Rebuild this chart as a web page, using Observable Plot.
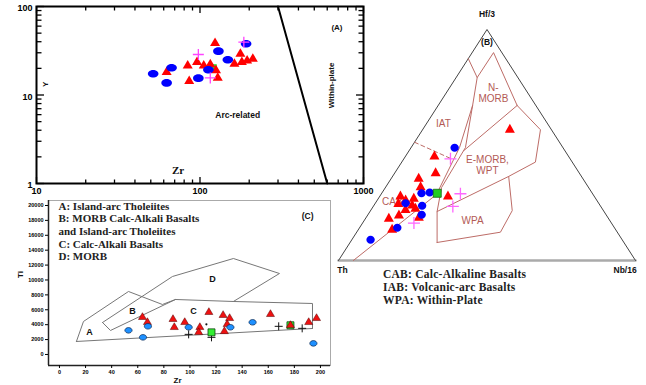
<!DOCTYPE html>
<html><head><meta charset="utf-8">
<script src="https://cdn.jsdelivr.net/npm/d3@7"></script>
<script src="https://cdn.jsdelivr.net/npm/@observablehq/plot@0.6"></script>
<style>
body{margin:0;background:#fff;}
#wrap{position:relative;width:646px;height:385px;overflow:hidden;background:#fff;}
#wrap svg{position:absolute;overflow:visible;background:transparent;}
.notes{position:absolute;left:383px;top:268px;font-family:"Liberation Serif",serif;font-weight:bold;font-size:11.5px;letter-spacing:0.25px;line-height:13px;color:#222;white-space:nowrap;}
</style></head><body><div id="wrap"></div>
<script>
// ================= Panel A : Y vs Zr (log-log) =================
const aXDomain = [10, 1000];
const aYDomain = [1, 100];
const aXTickLabels = [10, 100, 1000];
const aYTickLabels = [1, 10, 100];
const aBoundaryZr = [300, 600];
const aBoundaryY = [100, 1];
const aCircleZr = [51.7, 62.5, 67, 97.7, 112.5, 129.6, 148, 191.4];
const aCircleY = [17.4, 13.7, 20.3, 15.5, 19.3, 31.3, 25, 37.9];
const aTriangleZr = [62.5, 85.9, 84.1, 95.9, 105.4, 115.6, 123.6, 125.3, 128.4, 162.4, 176.6, 180.3, 194.2, 210.4];
const aTriangleY = [18.1, 14.3, 21.5, 23.5, 21.5, 22.1, 38.5, 18.9, 15.6, 22.5, 29.2, 23.5, 24.5, 25.6];
const aCrossZr = [97.7, 185.4, 115.6];
const aCrossY = [28.7, 39.5, 15.6];
const aSquareZr = [121.3];
const aSquareY = [20.6];
const aFieldText = ["Arc-related", "Within-plate"];
const aFieldZr = [170, 637];
const aFieldY = [5.9, 12.8];

// ================= Panel B : Hf/3 - Th - Nb/16 ternary (percent) =================
const bCornerHf = [0, 100, 0];
const bCornerNb = [0, 0, 100];
const bLineAHf = [0, 28.6, 48.9, 67.1, 79.2];
const bLineANb = [5, 18.7, 16.3, 11.6, 7.1];
const bLineBHf = [67.1, 48.9, 31.6, 21.2, 7.8];
const bLineBNb = [11.6, 18.3, 18.9, 22.6, 29.3];
const bNmorbHf = [87.4, 79.2, 90.0, 67.1];
const bNmorbNb = [0, 7.1, 7.2, 26.6];
const bNESplitHf = [67.1, 47.6];
const bNESplitNb = [26.6, 18.4];
const bEmorbHf = [67.1, 56.6, 42.6, 36.4, 21.2];
const bEmorbNb = [26.6, 39.7, 45.0, 39.1, 22.6];
const bWpaHf = [36.4, 21.6, 12.25, 7.8];
const bWpaNb = [39.1, 47.7, 48.4, 29.3];
const bDashHf = [51.2, 44.2];
const bDashNb = [0, 15.6];
const bFieldText = ["IAT", "N-\nMORB", "E-MORB,\nWPT", "WPA", "CAB"];
const bFieldHf = [59.3, 72.7, 41.3, 17.3, 25.5];
const bFieldNb = [5.7, 15.8, 29.5, 36.5, 5.4];
const bCircleHf = [48.8, 9.0, 29.1, 29.4, 24.8, 23.7, 19.8, 14.2];
const bCircleNb = [14.7, 6.3, 13.4, 16.0, 10.2, 16.3, 18.1, 12.7];
const bTriangleHf = [45.0, 37.8, 35.4, 31.7, 27.7, 27.7, 26.0, 26.7, 24.5, 23.8, 22.4, 21.9, 19.5, 18.1, 18.5, 13.3, 56.6];
const bTriangleNb = [9.8, 13.8, 9.3, 11.8, 23.0, 7.0, 9.6, 12.0, 7.9, 12.9, 14.7, 11.6, 10.6, 7.9, 17.8, 11.4, 29.4];
const bCrossHf = [44.0, 28.9, 23.4, 16.2];
const bCrossNb = [15.7, 26.6, 26.8, 17.3];
const bSquareHf = [29.1];
const bSquareNb = [18.7];
const bNotes = ["CAB: Calc-Alkaline Basalts", "IAB: Volcanic-arc Basalts", "WPA: Within-Plate"];

// ================= Panel C : Ti vs Zr =================
const cXDomain = [-8.4, 207.7];
const cYDomain = [-1480, 20670];
const cXTickLabels = [0, 20, 40, 60, 80, 100, 120, 140, 160, 180, 200];
const cYTickLabels = [0, 2000, 4000, 6000, 8000, 10000, 12000, 14000, 16000, 18000, 20000];
const cOuterZr = [13, 18.4, 52.9, 78.9, 88.9];
const cOuterTi = [1745, 4429, 8455, 6710, 7381];
const cBaseZr = [13, 193.9];
const cBaseTi = [1745, 3489];
const cCTopZr = [193.9, 193.9, 133.3, 88.9];
const cCTopTi = [3489, 6844, 7113, 7381];
const cDZr = [33, 86.6, 133.3, 168.6, 133.3];
const cDTi = [4294, 10468, 12883, 10870, 7113];
const cBLowZr = [33, 39.1, 88.9];
const cBLowTi = [4294, 3221, 7381];
const cFieldText = ["A", "B", "C", "D"];
const cFieldZr = [23, 55.9, 102.7, 117.2];
const cFieldTi = [2993, 5771, 5771, 10065];
const cLegend = ["A: Island-arc Tholeiites", "B: MORB Calc-Alkali Basalts", "and Island-arc Tholeiites", "C: Calc-Alkali Basalts", "D: MORB"];
const cCircleZr = [52.9, 64, 67.8, 99, 131, 148, 194.6];
const cCircleTi = [3240, 2300, 3780, 3650, 3650, 4320, 1490];
const cTriangleZr = [63.6, 67.4, 87, 88, 96, 107.6, 106.7, 114.5, 125.4, 126.4, 128.5, 130.4, 161.7, 177, 191, 197];
const cTriangleTi = [5000, 4320, 4730, 3650, 4320, 3650, 2970, 5670, 5270, 3100, 4050, 4860, 5400, 3920, 4320, 4860];
const cSquareZr = [116.5, 177];
const cSquareTi = [2970, 3920];
const cCrossZr = [99, 116.5, 168, 186];
const cCrossTi = [2700, 2300, 3780, 3510];
const cDotZr = [112.6];
const cDotTi = [4050];

// ---------- helpers ----------
const rows = (xs, ys) => xs.map((x, i) => ({x, y: ys[i]}));
const tern = (hf, nb) => hf.map((h, i) => ({x: nb[i] / 100 + h / 200, y: h / 100}));
const ell = (a, b) => ({draw(c) {const k = 0.5523; c.moveTo(a, 0); c.bezierCurveTo(a, b * k, a * k, b, 0, b); c.bezierCurveTo(-a * k, b, -a, b * k, -a, 0); c.bezierCurveTo(-a, -b * k, -a * k, -b, 0, -b); c.bezierCurveTo(a * k, -b, a, -b * k, a, 0); c.closePath();}});
const tri = (w, h) => ({draw(c) {c.moveTo(0, -h * 2 / 3); c.lineTo(w / 2, h / 3); c.lineTo(-w / 2, h / 3); c.closePath();}});
const sq = (s) => ({draw(c) {c.moveTo(-s / 2, -s / 2); c.lineTo(s / 2, -s / 2); c.lineTo(s / 2, s / 2); c.lineTo(-s / 2, s / 2); c.closePath();}});
const plus = (s) => ({draw(c) {c.moveTo(-s, 0); c.lineTo(s, 0); c.moveTo(0, -s); c.lineTo(0, s);}});
const SANS = "Liberation Sans, Arial, sans-serif";
const SERIF = "Liberation Serif, Times New Roman, serif";
const wrap = document.getElementById("wrap");
function place(svg, left, top) {svg.style.left = left + "px"; svg.style.top = top + "px"; wrap.appendChild(svg);}

// ---------- Panel A ----------
{
  const W = 370, H = 200, ml = 36, mr = 7, mt = 6, mb = 17;
  const fw = W - ml - mr, fh = H - mt - mb;
  const xMinor = [1, 2].flatMap(e => d3.range(2, 10).map(m => m * 10 ** e));
  const yMinor = [0, 1].flatMap(e => d3.range(2, 10).map(m => m * 10 ** e));
  const blank = () => "";
  const tkStyle = {label: null, stroke: "#000", strokeWidth: 1.3, tickFormat: blank};
  const inner = (ticksX, ticksY, len) => [
    Plot.axisY({anchor: "right", ticks: ticksY, tickSize: len, dx: -fw, ...tkStyle}),
    Plot.axisY({anchor: "left", ticks: ticksY, tickSize: len, dx: fw, ...tkStyle}),
    Plot.axisX({anchor: "bottom", ticks: ticksX, tickSize: len, dy: -fh, ...tkStyle}),
    Plot.axisX({anchor: "top", ticks: ticksX, tickSize: len, dy: fh, ...tkStyle})
  ];
  const svg = Plot.plot({
    width: W, height: H, marginLeft: ml, marginRight: mr, marginTop: mt, marginBottom: mb,
    style: {fontFamily: SANS, background: "transparent"},
    x: {type: "log", domain: aXDomain},
    y: {type: "log", domain: aYDomain},
    marks: [
      ...inner(xMinor, yMinor, 4.5),
      ...inner(aXTickLabels, aYTickLabels, 7),
      Plot.axisX({ticks: aXTickLabels, tickSize: 0, tickPadding: 4, tickFormat: d => String(d), fontSize: 9, fontWeight: "bold", label: null}),
      Plot.axisY({ticks: aYTickLabels, tickSize: 0, tickPadding: 4, tickFormat: d => String(d), fontSize: 9, fontWeight: "bold", dy: 2, label: null}),
      Plot.frame({stroke: "#000", strokeWidth: 2}),
      Plot.line(rows(aBoundaryZr, aBoundaryY), {x: "x", y: "y", stroke: "#000", strokeWidth: 2}),
      Plot.text([aFieldText[0]], {x: () => aFieldZr[0], y: () => aFieldY[0], fontSize: 8.5, fontWeight: "bold", fill: "#111"}),
      Plot.text([aFieldText[1]], {x: () => aFieldZr[1], y: () => aFieldY[1], rotate: -90, fontSize: 8, fontWeight: "bold", fill: "#111"}),
      Plot.text(["Zr"], {frameAnchor: "bottom", dx: -22, dy: -10, fontFamily: SERIF, fontSize: 11, fontWeight: "bold", fill: "#111"}),
      Plot.text(["Y"], {frameAnchor: "left", dx: 9, dy: -8, rotate: -90, fontSize: 8, fontWeight: "bold", fill: "#111"}),
      Plot.text(["(A)"], {frameAnchor: "top-right", dx: -21, dy: 18, fontSize: 8, fontWeight: "bold", fill: "#111"}),
      Plot.dot(rows(aSquareZr, aSquareY), {x: "x", y: "y", symbol: sq(6), r: 3, fill: "#22dd22", stroke: "none"}),
      Plot.dot(rows(aTriangleZr, aTriangleY), {x: "x", y: "y", symbol: tri(10, 8.5), r: 4, fill: "#ff0000", stroke: "none"}),
      Plot.dot(rows(aCircleZr, aCircleY), {x: "x", y: "y", symbol: ell(5.3, 3.8), r: 4, fill: "#0000ff", stroke: "none"}),
      Plot.dot(rows(aCrossZr, aCrossY), {x: "x", y: "y", symbol: plus(5.5), r: 4, fill: "none", stroke: "#ff44ff", strokeWidth: 1.3})
    ]
  });
  place(svg, 0, 0);
}

// ---------- Panel C ----------
{
  const W = 336, H = 190, ml = 48, mr = 6, mt = 5, mb = 20;
  const ln = {x: "x", y: "y", stroke: "#777", strokeWidth: 1};
  const svg = Plot.plot({
    width: W, height: H, marginLeft: ml, marginRight: mr, marginTop: mt, marginBottom: mb,
    style: {fontFamily: SANS, background: "transparent"},
    x: {domain: cXDomain},
    y: {domain: cYDomain},
    marks: [
      Plot.frame({stroke: "#aaa", strokeWidth: 1}),
      Plot.ruleX([cXDomain[0]], {stroke: "#222", strokeWidth: 1.5}),
      Plot.ruleY([cYDomain[0]], {stroke: "#222", strokeWidth: 1.5}),
      Plot.axisY({ticks: cYTickLabels, tickSize: 3, tickPadding: 2, tickFormat: d => String(d), fontSize: 5.5, fontWeight: "bold", label: null}),
      Plot.axisX({ticks: cXTickLabels, tickSize: 3, tickPadding: 2, tickFormat: d => String(d), fontSize: 5.5, fontWeight: "bold", label: null}),
      Plot.text(["Ti"], {frameAnchor: "left", dx: -28, dy: -5, rotate: -90, fontSize: 8, fontWeight: "bold", fill: "#111"}),
      Plot.text(["Zr"], {frameAnchor: "bottom", dx: -12, dy: 17, fontSize: 8, fontWeight: "bold", fill: "#111"}),
      Plot.line(rows(cOuterZr, cOuterTi), ln),
      Plot.line(rows(cBaseZr, cBaseTi), ln),
      Plot.line(rows(cCTopZr, cCTopTi), ln),
      Plot.line(rows(cDZr, cDTi), ln),
      Plot.line(rows(cBLowZr, cBLowTi), ln),
      Plot.text(cFieldText, {x: (d, i) => cFieldZr[i], y: (d, i) => cFieldTi[i], fontSize: 9, fontWeight: "bold", fill: "#111"}),
      Plot.text([cLegend.join("\n")], {frameAnchor: "top-left", dx: 10, dy: 0.5, lineAnchor: "top", textAnchor: "start", lineHeight: 1.14, fontFamily: SERIF, fontSize: 11, fontWeight: "bold", fill: "#222"}),
      Plot.text(["(C)"], {frameAnchor: "top-right", dx: -17, dy: 12, fontSize: 8.5, fontWeight: "bold", fill: "#111"}),
      Plot.dot(rows(cCrossZr, cCrossTi), {x: "x", y: "y", symbol: plus(4), r: 3, fill: "none", stroke: "#111", strokeWidth: 1}),
      Plot.dot(rows(cDotZr, cDotTi), {x: "x", y: "y", r: 1.1, fill: "#111", stroke: "none"}),
      Plot.dot(rows(cSquareZr, cSquareTi), {x: "x", y: "y", symbol: sq(7), r: 3, fill: "#33ee33", stroke: "#114411", strokeWidth: 0.8}),
      Plot.dot(rows(cTriangleZr, cTriangleTi), {x: "x", y: "y", symbol: tri(8, 6.8), r: 3, fill: "#ee1111", stroke: "#550000", strokeWidth: 0.5}),
      Plot.dot(rows(cCircleZr, cCircleTi), {x: "x", y: "y", symbol: ell(3.6, 2.8), r: 3, fill: "#1e90ff", stroke: "#0a2a55", strokeWidth: 0.7})
    ]
  });
  place(svg, 0, 195);
}

// ---------- Panel B ----------
{
  const W = 316, H = 290, ml = 8, mr = 11, mt = 29, mb = 30;
  const FIELD = "#bd6c67";
  const fl = {x: "x", y: "y", stroke: FIELD, strokeWidth: 1};
  const corners = tern(bCornerHf, bCornerNb);
  const svg = Plot.plot({
    width: W, height: H, marginLeft: ml, marginRight: mr, marginTop: mt, marginBottom: mb,
    style: {fontFamily: SANS, background: "transparent"},
    x: {domain: [0, 1], axis: null},
    y: {domain: [0, 1], axis: null},
    marks: [
      Plot.line([corners[0], corners[2]], {x: "x", y: "y", stroke: "#aaa", strokeWidth: 2.5}),
      Plot.line([corners[0], corners[1], corners[2]], {x: "x", y: "y", stroke: "#444", strokeWidth: 1}),
      Plot.line(tern(bLineAHf, bLineANb), fl),
      Plot.line(tern(bLineBHf, bLineBNb), fl),
      Plot.line(tern(bNmorbHf, bNmorbNb), fl),
      Plot.line(tern(bNESplitHf, bNESplitNb), fl),
      Plot.line(tern(bEmorbHf, bEmorbNb), fl),
      Plot.line(tern(bWpaHf, bWpaNb), fl),
      Plot.line(tern(bDashHf, bDashNb), {...fl, strokeDasharray: "4,3"}),
      Plot.text(tern(bFieldHf, bFieldNb), {x: "x", y: "y", text: (d, i) => bFieldText[i], fontSize: 10, lineHeight: 1.1, fill: "#b35a55"}),
      Plot.text([corners[1]], {x: "x", y: "y", text: () => "Hf/3", dy: -15, fontSize: 8.5, fontWeight: "bold", fill: "#111"}),
      Plot.text([corners[1]], {x: "x", y: "y", text: () => "(B)", dy: 13, fontSize: 8.5, fontWeight: "bold", fill: "#111"}),
      Plot.text([corners[0]], {x: "x", y: "y", text: () => "Th", dx: 4, dy: 10, fontSize: 8.5, fontWeight: "bold", fill: "#111"}),
      Plot.text([corners[2]], {x: "x", y: "y", text: () => "Nb/16", textAnchor: "start", dx: -22, dy: 10, fontSize: 8.5, fontWeight: "bold", fill: "#111"}),
      Plot.dot(tern(bTriangleHf, bTriangleNb), {x: "x", y: "y", symbol: tri(10, 9), r: 4, fill: "#ff0000", stroke: "none"}),
      Plot.dot(tern(bCircleHf, bCircleNb), {x: "x", y: "y", symbol: ell(4.2, 4), r: 4, fill: "#0000ff", stroke: "none"}),
      Plot.dot(tern(bSquareHf, bSquareNb), {x: "x", y: "y", symbol: sq(8), r: 4, fill: "#22cc22", stroke: "#116611", strokeWidth: 0.8}),
      Plot.dot(tern(bCrossHf, bCrossNb), {x: "x", y: "y", symbol: plus(6), r: 4, fill: "none", stroke: "#ff66ff", strokeWidth: 1.3})
    ]
  });
  place(svg, 330, 0);
}

// ---------- notes under the ternary ----------
{
  const div = document.createElement("div");
  div.className = "notes";
  div.innerHTML = bNotes.join("<br>");
  wrap.appendChild(div);
}
</script>
</body></html>
